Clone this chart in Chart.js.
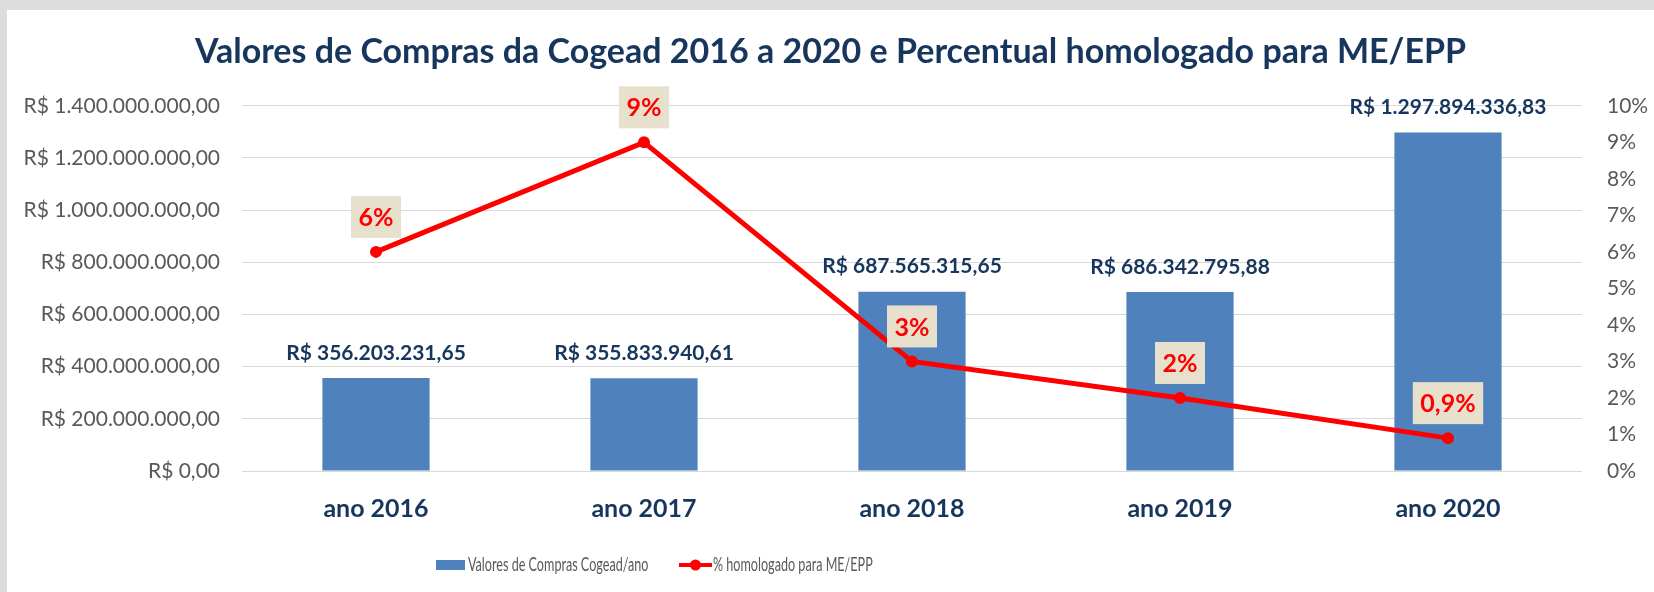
<!DOCTYPE html>
<html lang="pt-BR">
<head>
<meta charset="utf-8">
<title>Valores de Compras da Cogead</title>
<script src="https://cdn.jsdelivr.net/npm/chart.js@4.4.1/dist/chart.umd.min.js"></script>
<style>
  html, body { margin:0; padding:0; }
  body { width:1654px; height:592px; background:#dcdcdc; overflow:hidden; position:relative; }
  .panel { position:absolute; left:7px; top:10px; width:1647px; height:582px; background:#fff; }
</style>
</head>
<body>
<div class="panel"><canvas id="chart" width="1647" height="582"></canvas></div>
<script>
/* ===== DADOS ===== */
const anos = ['ano 2016', 'ano 2017', 'ano 2018', 'ano 2019', 'ano 2020'];
const valoresCompras = [356203231.65, 355833940.61, 687565315.65, 686342795.88, 1297894336.83];
const percentualMeEpp = [6, 9, 3, 2, 0.9];
const ticksValores = [0, 200000000, 400000000, 600000000, 800000000, 1000000000, 1200000000, 1400000000];
const ticksPercentual = [0, 1, 2, 3, 4, 5, 6, 7, 8, 9, 10];

const FONT = 'Lato';
const NAVY = '#17365D';
const GRAY = '#595959';

function brl(v) {
  const [int, dec] = v.toFixed(2).split('.');
  return 'R$ ' + int.replace(/\B(?=(\d{3})+(?!\d))/g, '.') + ',' + dec;
}
function pct(v) { return String(v).replace('.', ',') + '%'; }

/* rótulos de dados: valores acima das barras, % em caixas bege */
const rotulos = {
  id: 'rotulos',
  afterDatasetsDraw(chart) {
    const ctx = chart.ctx;
    ctx.save();
    ctx.textAlign = 'center';
    ctx.textBaseline = 'middle';
    ctx.font = `bold 21px ${FONT}`;
    ctx.fillStyle = NAVY;
    chart.getDatasetMeta(0).data.forEach((bar, i) => {
      ctx.fillText(brl(valoresCompras[i]), bar.x, bar.y - 25);
    });
    ctx.font = `bold 25px ${FONT}`;
    chart.getDatasetMeta(1).data.forEach((pt, i) => {
      const txt = pct(percentualMeEpp[i]);
      const w = ctx.measureText(txt).width + 15, h = 42;
      const cy = pt.y - 35;
      ctx.fillStyle = '#E6E0CC';
      ctx.fillRect(pt.x - w / 2, cy - h / 2, w, h);
      ctx.fillStyle = '#FF0000';
      ctx.fillText(txt, pt.x, cy + 1);
    });
    ctx.restore();
  }
};

/* legenda no estilo do Excel (texto estreito) */
const legenda = {
  id: 'legenda',
  afterDraw(chart) {
    const ctx = chart.ctx, y = 555;
    ctx.save();
    ctx.fillStyle = '#4F81BD';
    ctx.fillRect(429, y - 5, 29, 10);
    ctx.strokeStyle = '#FF0000';
    ctx.lineWidth = 4;
    ctx.beginPath(); ctx.moveTo(672, y); ctx.lineTo(705, y); ctx.stroke();
    ctx.fillStyle = '#FF0000';
    ctx.beginPath(); ctx.arc(688.5, y, 5.5, 0, Math.PI * 2); ctx.fill();
    ctx.fillStyle = GRAY;
    ctx.font = `20px ${FONT}`;
    ctx.textBaseline = 'middle';
    [[461, chart.data.datasets[0].label], [706, chart.data.datasets[1].label]].forEach(([x, t]) => {
      ctx.save();
      ctx.translate(x, y);
      ctx.scale(0.63, 1);
      ctx.fillText(t, 0, 0);
      ctx.restore();
    });
    ctx.restore();
  }
};

new Chart(document.getElementById('chart'), {
  data: {
    labels: anos,
    datasets: [
      { type: 'bar', label: 'Valores de Compras Cogead/ano', data: valoresCompras, yAxisID: 'y',
        backgroundColor: '#4F81BD', categoryPercentage: 1, barPercentage: 0.4, order: 1 },
      { type: 'line', label: '% homologado para ME/EPP', data: percentualMeEpp, yAxisID: 'y1',
        borderColor: '#FF0000', backgroundColor: '#FF0000', borderWidth: 5, pointRadius: 6,
        pointBorderWidth: 0, tension: 0, order: 0 }
    ]
  },
  options: {
    responsive: false,
    animation: false,
    layout: { padding: 0 },
    plugins: {
      title: { display: true, text: 'Valores de Compras da Cogead 2016 a 2020 e Percentual homologado para ME/EPP',
        color: NAVY, font: { family: FONT, size: 34, weight: 'bold' }, padding: { top: 21.5, bottom: 33.5 } },
      legend: { display: false },
      tooltip: { enabled: false }
    },
    scales: {
      x: {
        grid: { display: false, drawTicks: false }, border: { display: false },
        ticks: { color: NAVY, font: { family: FONT, size: 25, weight: 'bold' }, padding: 23 },
        afterFit: s => { s.height = 121; }
      },
      y: {
        position: 'left', min: 0, max: 1400000000,
        afterBuildTicks: s => { s.ticks = ticksValores.map(v => ({ value: v })); },
        grid: { color: '#D9D9D9', lineWidth: 1, drawTicks: false }, border: { display: false },
        ticks: { color: GRAY, font: { family: FONT, size: 21 }, padding: 22, callback: v => brl(v) },
        afterFit: s => { s.width = 235; }
      },
      y1: {
        position: 'right', min: 0, max: 10,
        afterBuildTicks: s => { s.ticks = ticksPercentual.map(v => ({ value: v })); },
        grid: { display: false, drawTicks: false }, border: { display: false },
        ticks: { color: GRAY, font: { family: FONT, size: 21 }, padding: 25, callback: v => v + '%' },
        afterFit: s => { s.width = 72; }
      }
    }
  },
  plugins: [rotulos, legenda]
});
</script>
</body>
</html>
